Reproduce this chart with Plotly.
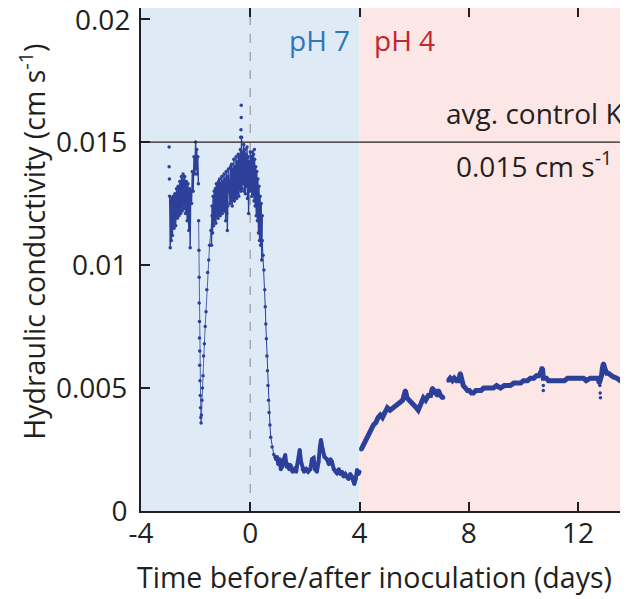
import plotly.graph_objects as go

# ---------------- data ----------------
# first pre-inoculation cluster (dense noisy band, drawn as zig-zag)
pre1_x = [-2.95, -2.93, -2.91, -2.89, -2.87, -2.85, -2.82, -2.79, -2.76, -2.73,
          -2.70, -2.67, -2.64, -2.61, -2.58, -2.55, -2.52, -2.49, -2.46, -2.43,
          -2.40, -2.37, -2.34, -2.31, -2.28, -2.25, -2.22, -2.20, -2.18, -2.15,
          -2.12, -2.09, -2.06, -2.03, -2.00, -1.98, -1.96, -1.94, -1.92, -1.90]
pre1_y = [0.0128, 0.0107, 0.0126, 0.0110, 0.0127, 0.0112, 0.0128, 0.0115, 0.0129, 0.0116,
          0.0131, 0.0119, 0.0132, 0.0120, 0.0134, 0.0121, 0.0136, 0.0122, 0.0137, 0.0123,
          0.0136, 0.0121, 0.0134, 0.0118, 0.0133, 0.0114, 0.0131, 0.0107, 0.0130, 0.0125,
          0.0138, 0.0130, 0.0144, 0.0137, 0.0150, 0.0139, 0.0147, 0.0137, 0.0144, 0.0133]

# isolated early points + sharp drop and recovery near day -1.8
drop_x = [-2.97, -2.97, -2.96, -1.89, -1.88, -1.87, -1.87, -1.86, -1.86, -1.85, -1.85,
          -1.84, -1.83, -1.82, -1.81, -1.80, -1.79, -1.77, -1.75, -1.73, -1.71, -1.68,
          -1.65, -1.62, -1.59, -1.56, -1.52, -1.49, -1.44, -1.40]
drop_y = [0.0148, 0.0140, 0.0135, 0.0118, 0.0106, 0.0095, 0.00846, 0.0077, 0.00703, 0.0065,
          0.00593, 0.0053, 0.0047, 0.0042, 0.0038, 0.00358, 0.0039, 0.0045, 0.0050, 0.0055,
          0.0063, 0.0068, 0.0075, 0.0081, 0.0090, 0.0097, 0.0102, 0.0108, 0.0114, 0.0120]

# second pre-inoculation cluster: band bottom / top
pre2_x = [-1.42, -1.38, -1.34, -1.30, -1.26, -1.22, -1.18, -1.14, -1.10, -1.06,
          -1.02, -0.98, -0.94, -0.90, -0.86, -0.84, -0.82, -0.74, -0.70, -0.66,
          -0.62, -0.58, -0.54, -0.50, -0.46, -0.42, -0.38, -0.34, -0.30, -0.26,
          -0.22, -0.18, -0.14, -0.10, -0.06, -0.02, 0.02, 0.06, 0.10, 0.14,
          0.18, 0.22, 0.26, 0.30, 0.34, 0.38, 0.42]
pre2_lo = [0.0108, 0.0113, 0.0116, 0.0118, 0.0117, 0.0120, 0.0119, 0.0121, 0.0120, 0.0122,
           0.0121, 0.0123, 0.0122, 0.0118, 0.0121, 0.0114, 0.0124, 0.0125, 0.0126, 0.0124,
           0.0127, 0.0126, 0.0128, 0.0127, 0.0129, 0.0128, 0.0131, 0.0130, 0.0131, 0.0133,
           0.0130, 0.0129, 0.0132, 0.0127, 0.0121, 0.0130, 0.0131, 0.0128, 0.0129, 0.0126,
           0.0124, 0.0120, 0.0118, 0.0113, 0.0110, 0.0108, 0.0102]
pre2_hi = [0.0124, 0.0128, 0.0130, 0.0131, 0.0133, 0.0132, 0.0134, 0.0135, 0.0133, 0.0136,
           0.0134, 0.0137, 0.0135, 0.0138, 0.0136, 0.0130, 0.0139, 0.0140, 0.0141, 0.0139,
           0.0143, 0.0140, 0.0144, 0.0142, 0.0145, 0.0144, 0.0147, 0.0152, 0.0146, 0.0149,
           0.0147, 0.0145, 0.0148, 0.0144, 0.0142, 0.0146, 0.0144, 0.0146, 0.0145, 0.0143,
           0.0140, 0.0138, 0.0135, 0.0132, 0.0128, 0.0125, 0.0120]

# isolated spike points near day -0.33
spike_x = [-0.33, -0.33, -0.34, -0.35, 0.15]
spike_y = [0.0165, 0.0160, 0.0155, 0.0152, 0.0147]

# decline after inoculation and pH 7 floor
fall_x = [0.44, 0.47, 0.50, 0.53, 0.55, 0.57, 0.59, 0.61, 0.63, 0.65, 0.67, 0.69,
          0.72, 0.75, 0.80, 0.86, 0.92]
fall_y = [0.0110, 0.0104, 0.0098, 0.0090, 0.0083, 0.0076, 0.0070, 0.0063, 0.0057,
          0.0051, 0.0045, 0.0040, 0.0035, 0.0030, 0.0026, 0.0023, 0.0022]

floor_x = [0.92, 0.95, 0.98, 1.03, 1.08, 1.12, 1.16, 1.22, 1.28, 1.33, 1.38, 1.43, 1.47,
           1.55, 1.62, 1.68, 1.74, 1.81, 1.86, 1.92, 1.97, 2.05, 2.12, 2.20, 2.26, 2.32,
           2.37, 2.44, 2.50, 2.55, 2.59, 2.65, 2.72, 2.81, 2.88, 2.94, 2.99, 3.06, 3.12,
           3.17, 3.24, 3.30, 3.36, 3.42, 3.48, 3.54, 3.60, 3.66, 3.72, 3.78, 3.81, 3.86,
           3.91, 3.96, 4.00]
floor_y = [0.0022, 0.0021, 0.0022, 0.0019, 0.0021, 0.0017, 0.0018, 0.0021, 0.00228, 0.0018,
           0.0019, 0.0017, 0.00187, 0.0016, 0.0017, 0.0016, 0.0020, 0.00248, 0.0020, 0.0017,
           0.0016, 0.0017, 0.0016, 0.0017, 0.0021, 0.00215, 0.0017, 0.0016, 0.0020, 0.0026,
           0.00289, 0.0025, 0.0022, 0.0021, 0.0019, 0.0021, 0.0020, 0.0017, 0.0016, 0.00155,
           0.0017, 0.0015, 0.0016, 0.0014, 0.0015, 0.00138, 0.0013, 0.0015, 0.0014, 0.0012,
           0.0011, 0.0013, 0.00167, 0.0015, 0.0016]

# pH 4 period, first part (until the gap near day 7.1)
ph4a_x = [4.06, 4.14, 4.22, 4.32, 4.42, 4.51, 4.60, 4.68, 4.76, 4.84, 4.91, 5.02, 5.12,
          5.24, 5.35, 5.49, 5.58, 5.68, 5.74, 5.82, 5.92, 6.00, 6.08, 6.15, 6.22, 6.34,
          6.42, 6.52, 6.60, 6.67, 6.72, 6.78, 6.84, 6.89, 6.96, 7.02, 7.07]
ph4a_y = [0.0025, 0.0027, 0.0029, 0.0031, 0.0033, 0.0035, 0.0036, 0.0038, 0.0039, 0.0038,
          0.0040, 0.0042, 0.0041, 0.0042, 0.0043, 0.0044, 0.0045, 0.0049, 0.0046, 0.0045,
          0.0044, 0.0043, 0.0042, 0.0041, 0.0043, 0.0046, 0.0045, 0.0047, 0.0047, 0.0050,
          0.0048, 0.0049, 0.0047, 0.0049, 0.0047, 0.0046, 0.0046]

# pH 4 period, second part
ph4b_x = [7.25, 7.32, 7.40, 7.47, 7.55, 7.62, 7.69, 7.74, 7.80, 7.88, 7.95, 8.02, 8.10,
          8.17, 8.26, 8.35, 8.45, 8.55, 8.65, 8.79, 8.90, 9.02, 9.16, 9.30, 9.42, 9.52,
          9.65, 9.78, 9.90, 10.00, 10.07, 10.15, 10.26, 10.38, 10.48, 10.56, 10.62, 10.66,
          10.70, 10.73, 10.78, 10.84, 10.92, 10.99, 11.10, 11.20, 11.36, 11.50, 11.62,
          11.72, 11.85, 11.98, 12.09, 12.20, 12.30, 12.45, 12.55, 12.65, 12.73, 12.78,
          12.86, 12.89, 12.93, 12.98, 13.05, 13.11, 13.20, 13.30, 13.42, 13.55, 13.68,
          13.81, 13.90]
ph4b_y = [0.0053, 0.0054, 0.0053, 0.0054, 0.0053, 0.0053, 0.0056, 0.0053, 0.0051, 0.0050,
          0.0049, 0.0049, 0.0048, 0.0048, 0.0049, 0.0049, 0.0049, 0.0050, 0.0050, 0.0050,
          0.0050, 0.0051, 0.0050, 0.0051, 0.0051, 0.0051, 0.0052, 0.0052, 0.0052, 0.0053,
          0.0053, 0.0053, 0.0054, 0.0054, 0.0055, 0.0055, 0.0056, 0.0058, 0.0058, 0.0054,
          0.0054, 0.0054, 0.0053, 0.0053, 0.0053, 0.0053, 0.0053, 0.0053, 0.0054, 0.0054,
          0.0054, 0.0054, 0.0054, 0.0054, 0.0053, 0.0054, 0.0054, 0.0054, 0.0054, 0.0052,
          0.0055, 0.0058, 0.0060, 0.0058, 0.0056, 0.0056, 0.0055, 0.00545, 0.0054, 0.0053,
          0.0053, 0.0052, 0.0052]

# isolated low outliers in the pH 4 period
dip_x = [10.73, 10.73, 12.80, 12.81, 12.82]
dip_y = [0.0051, 0.0049, 0.0051, 0.0048, 0.0046]

control_k = 0.015
x_ticks = [-4, 0, 4, 8, 12]
x_tick_text = ["-4", "0", "4", "8", "12"]
y_ticks = [0, 0.005, 0.01, 0.015, 0.02]
y_tick_text = ["0", "0.005", "0.01", "0.015", "0.02"]

# ---------------- figure ----------------
C = "#2c409a"
FONT = "Open Sans"
TXT = "#231f20"
FS = 28
FT = 28.5

# zig-zag the second cluster's bottom/top values
pre2_zx, pre2_zy = [], []
for xv, lo, hi in zip(pre2_x, pre2_lo, pre2_hi):
    pre2_zx += [xv, xv + 0.02]
    pre2_zy += [lo, hi]

fig = go.Figure()

def add(x, y, lw, ms, mode="lines+markers"):
    fig.add_trace(go.Scatter(x=x, y=y, mode=mode,
                             line=dict(color=C, width=lw),
                             marker=dict(color=C, size=ms),
                             showlegend=False, hoverinfo="skip"))

add(pre1_x, pre1_y, 1.4, 3.5)
add(drop_x[:3], drop_y[:3], 0, 3.5, mode="markers")
add(drop_x[3:], drop_y[3:], 0.8, 3.5)
add(pre2_zx, pre2_zy, 1.4, 3.5)
add(spike_x, spike_y, 0, 3.5, mode="markers")
add(fall_x, fall_y, 1, 3.5)
add(floor_x, floor_y, 4, 4)
add(ph4a_x, ph4a_y, 5, 4)
add(ph4b_x, ph4b_y, 5, 4)
add(dip_x, dip_y, 0, 3.5, mode="markers")

shapes = [
    dict(type="rect", xref="x", yref="paper", x0=-4, x1=4, y0=0, y1=1,
         fillcolor="#deeaf6", line=dict(width=0), layer="below"),
    dict(type="rect", xref="x", yref="paper", x0=4, x1=20, y0=0, y1=1,
         fillcolor="#fde6e6", line=dict(width=0), layer="below"),
    dict(type="line", xref="x", yref="paper", x0=0, x1=0, y0=0, y1=1,
         line=dict(color="#a8a8a8", width=1.5, dash="dash"), layer="below"),
    dict(type="line", xref="paper", yref="y", x0=0, x1=1, y0=control_k, y1=control_k,
         line=dict(color="#231f20", width=1.2), layer="above"),
]
# short inward ticks of the (off-screen) right axis
for yv in y_ticks[1:]:
    shapes.append(dict(type="line", xref="paper", yref="y", xsizemode="pixel", xanchor=1,
                       x0=-4, x1=0, y0=yv, y1=yv,
                       line=dict(color="#231f20", width=1.5), layer="above"))

annotations = [
    # top y tick label (plotly hides it because it touches the page edge)
    dict(text=y_tick_text[-1], x=0, y=y_ticks[-1], xref="paper", yref="y", xanchor="right",
         yanchor="middle", xshift=-9, showarrow=False,
         font=dict(family=FONT, size=FS, color=TXT)),
    dict(text="pH 7", x=3.74, y=0.01915, xref="x", yref="y", xanchor="right",
         yanchor="middle", showarrow=False, font=dict(family=FONT, size=FS, color="#2e78b7")),
    dict(text="pH 4", x=4.47, y=0.01915, xref="x", yref="y", xanchor="left",
         yanchor="middle", showarrow=False, font=dict(family=FONT, size=FS, color="#c0282d")),
    dict(text="avg. control K", x=7.1, y=0.0162, xref="x", yref="y", xanchor="left",
         yanchor="middle", showarrow=False, font=dict(family=FONT, size=FS, color=TXT)),
    dict(text="0.015 cm s<sup>-1</sup>", x=7.45, y=0.0141, xref="x", yref="y", xanchor="left",
         yanchor="middle", showarrow=False, font=dict(family=FONT, size=FS, color=TXT)),
    dict(text="Time before/after inoculation (days)", x=4.55, y=-0.131, xref="x", yref="paper",
         xanchor="center", yanchor="middle", showarrow=False,
         font=dict(family=FONT, size=FT, color=TXT)),
    dict(text="Hydraulic conductivity (cm s<sup>-1</sup>)", x=-0.222, y=0.535, xref="paper",
         yref="paper", xanchor="center", yanchor="middle", textangle=-90, showarrow=False,
         font=dict(family=FONT, size=FT, color=TXT)),
]

# the page body has an 8 px margin, so the figure is 8 px smaller on each side
fig.update_layout(
    width=620, height=591,
    margin=dict(l=133, r=0, t=0, b=88, pad=0, autoexpand=False),
    paper_bgcolor="white", plot_bgcolor="white",
    shapes=shapes, annotations=annotations,
    font=dict(family=FONT, size=FS, color=TXT),
)
fig.update_xaxes(range=[-4, 13.83], tickvals=x_ticks, ticktext=x_tick_text,
                 ticks="inside", ticklen=9, automargin=False, ticklabelstandoff=-4,
                 tickwidth=1.5, tickcolor="#231f20", showline=True, linewidth=2,
                 linecolor="#231f20", mirror="ticks", showgrid=False, zeroline=False,
                 tickfont=dict(family=FONT, size=FS, color=TXT))
fig.update_yaxes(range=[0, 0.02045], tickvals=y_ticks, ticktext=y_tick_text[:-1] + [""],
                 ticks="inside", ticklen=9, tickwidth=1.5, tickcolor="#231f20",
                 automargin=False, ticklabelstandoff=6,
                 showline=True, linewidth=2, linecolor="#231f20", showgrid=False,
                 zeroline=False, tickfont=dict(family=FONT, size=FS, color=TXT))

fig.write_html("out.html")
